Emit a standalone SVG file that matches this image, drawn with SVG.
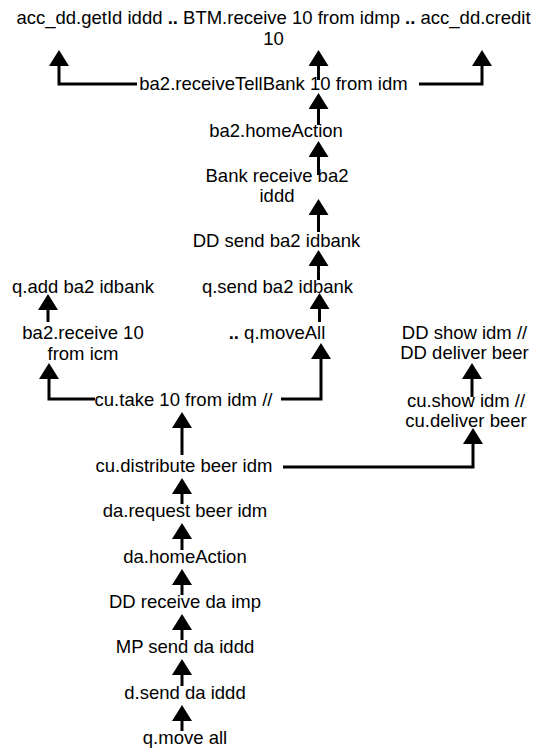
<svg xmlns="http://www.w3.org/2000/svg" width="540" height="748" viewBox="0 0 540 748">
  <defs>
    <style>
      text { font-family: "Liberation Sans", Arial, Helvetica, sans-serif; font-size: 18.5px; fill: #000; text-anchor: middle; }
      .b { font-weight: bold; }
      .edge { fill: none; stroke: #000; stroke-width: 3; marker-end: url(#head); }
    </style>
    <!-- block arrowhead; base sits at the path end, tip points along the path -->
    <marker id="head" viewBox="0 0 16 20" refX="0" refY="10" markerWidth="16" markerHeight="20" markerUnits="userSpaceOnUse" orient="auto">
      <path d="M0,0 L16,10 L0,20 Z" fill="#000"/>
    </marker>
  </defs>
  <rect width="540" height="748" fill="#fff"/>

  <g id="connectors">
    <path class="edge" d="M318.5,80 V66"/>
    <path class="edge" d="M137,84 H59 V66"/>
    <path class="edge" d="M419,84 H482 V66"/>
    <path class="edge" d="M318.5,125 V109"/>
    <path class="edge" d="M318.5,175 V157"/>
    <path class="edge" d="M318.5,232 V215"/>
    <path class="edge" d="M318.5,280 V266"/>
    <path class="edge" d="M319.5,322 V309"/>
    <path class="edge" d="M48,322 V310"/>
    <path class="edge" d="M95,399 H49 V379"/>
    <path class="edge" d="M281,399 H321 V359"/>
    <path class="edge" d="M472,397 V379"/>
    <path class="edge" d="M283,467 H473 V444"/>
    <path class="edge" d="M182,455 V428"/>
    <path class="edge" d="M182,504 V494"/>
    <path class="edge" d="M182,550 V539"/>
    <path class="edge" d="M182,595 V585"/>
    <path class="edge" d="M182,640 V630"/>
    <path class="edge" d="M182,686 V675"/>
    <path class="edge" d="M182,731 V721"/>
  </g>

  <g id="credit-chain">
    <text x="273.5" y="24">acc_dd.getId iddd <tspan class="b">..</tspan> BTM.receive 10 from idmp <tspan class="b">..</tspan> acc_dd.credit</text>
    <text x="273.5" y="45">10</text>
  </g>
  <g id="receive-tell-bank"><text x="273.5" y="90">ba2.receiveTellBank 10 from idm</text></g>
  <g id="ba2-home-action"><text x="276" y="137">ba2.homeAction</text></g>
  <g id="bank-receive">
    <text x="277" y="182">Bank receive ba2</text>
    <text x="277" y="202">iddd</text>
  </g>
  <g id="dd-send"><text x="276.5" y="247">DD send ba2 idbank</text></g>
  <g id="q-send"><text x="277.5" y="293">q.send ba2 idbank</text></g>
  <g id="q-add"><text x="83" y="293">q.add ba2 idbank</text></g>
  <g id="ba2-receive">
    <text x="83" y="339">ba2.receive 10</text>
    <text x="83" y="360">from icm</text>
  </g>
  <g id="q-move-all-dots"><text x="277" y="339"><tspan class="b">..</tspan> q.moveAll</text></g>
  <g id="dd-show">
    <text x="464.5" y="339">DD show idm //</text>
    <text x="464.5" y="359">DD deliver beer</text>
  </g>
  <g id="cu-take"><text x="183.5" y="406">cu.take 10 from idm //</text></g>
  <g id="cu-show">
    <text x="466" y="407">cu.show idm //</text>
    <text x="466" y="427">cu.deliver beer</text>
  </g>
  <g id="cu-distribute"><text x="184" y="472">cu.distribute beer idm</text></g>
  <g id="da-request"><text x="185" y="517.3">da.request beer idm</text></g>
  <g id="da-home-action"><text x="185" y="562.6">da.homeAction</text></g>
  <g id="dd-receive"><text x="185" y="608">DD receive da imp</text></g>
  <g id="mp-send"><text x="185" y="653.3">MP send da iddd</text></g>
  <g id="d-send"><text x="185" y="698.6">d.send da iddd</text></g>
  <g id="q-move-all"><text x="185" y="744">q.move all</text></g>
</svg>
